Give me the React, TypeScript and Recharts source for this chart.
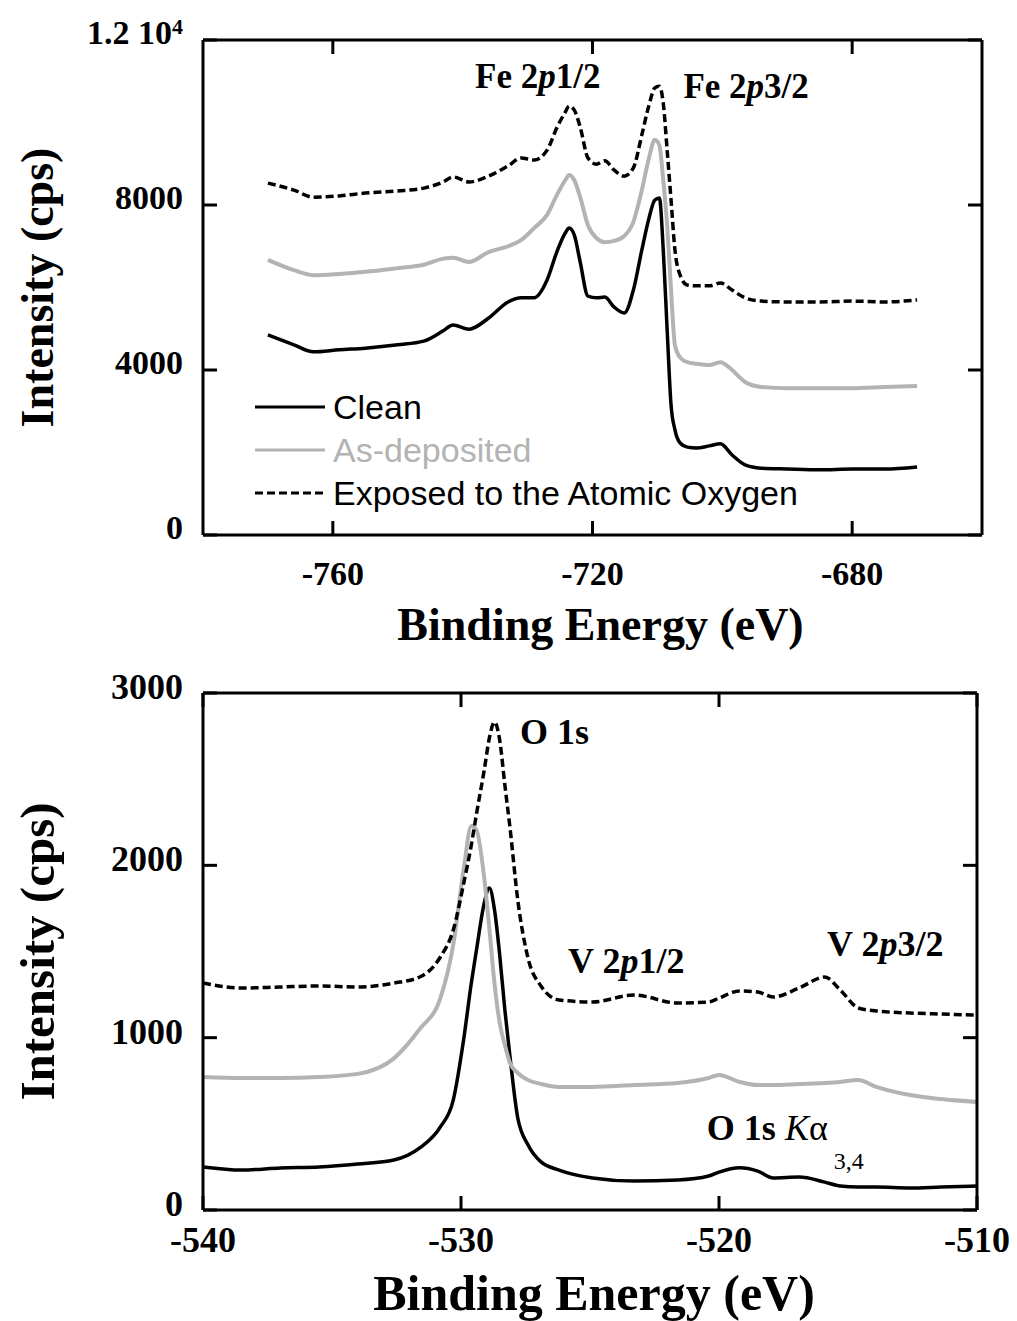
import { Legend, Line, LineChart, ReferenceDot, XAxis, YAxis } from "recharts";

const SERIF = "'Liberation Serif', 'Times New Roman', serif";
const SANS = "'Liberation Sans', Arial, sans-serif";
const GRAY = "#b3b3b3";

// Fe 2p region (binding energy in eV, intensity in cps)
const feEnergy = [
  -770, -766, -763, -759, -755, -750, -746, -743, -741.5, -739, -736, -733, -731, -729, -727, -725.5,
  -724.2, -723.6, -722.8, -721.9, -720.7, -719.4, -718.1, -716.7, -715.1, -713.7, -712.4, -711.3,
  -710.4, -709.7, -709.1, -708.5, -707.9, -707.3, -706.5, -705.4, -704, -702, -700.3, -698.5, -696.5,
  -694, -690, -685, -680, -675, -670,
];
const feClean = [
  4850, 4610, 4440, 4490, 4530, 4610, 4700, 4950, 5090, 4990, 5260, 5650, 5750, 5750, 6180, 6860,
  7320, 7440, 7270, 6620, 5790, 5750, 5770, 5530, 5380, 5940, 6910, 7680,
  8120, 8170, 6910, 4970, 3150, 2550, 2230, 2130, 2110, 2160, 2210, 1940, 1700,
  1620, 1600, 1580, 1600, 1600, 1650,
];
const feAsDeposited = [
  6670, 6420, 6300, 6330, 6380, 6470, 6550, 6700, 6720, 6620, 6860, 7000, 7150, 7440, 7760, 8240,
  8600, 8730, 8600, 8190, 7510, 7200, 7100, 7130, 7250, 7590, 8360, 9140,
  9580, 9450, 8600, 7510, 5940, 4600, 4300, 4190, 4150, 4120, 4190, 4000, 3710,
  3590, 3560, 3560, 3560, 3590, 3610,
];
const feExposed = [
  8530, 8360, 8190, 8220, 8290, 8340, 8410, 8560, 8680, 8560, 8700, 8950, 9140, 9090, 9330, 9870,
  10250, 10400, 10300, 9890, 9140, 8990, 9070, 8850, 8700, 8900, 9700, 10420,
  10840, 10880, 10470, 9330, 8120, 6910, 6300, 6060, 6040, 6040, 6110, 5940, 5750,
  5670, 5650, 5650, 5670, 5650, 5700,
];

// O 1s / V 2p region
const oEnergy = [
  -540, -538.5, -537, -535.5, -534, -532.6, -531.6, -530.8, -530.3, -529.9, -529.6, -529.4, -529.1,
  -528.9, -528.7, -528.5, -528.3, -528.1, -527.8, -527.4, -526.9, -526.2, -524.9, -523.3, -521.6,
  -520.4, -520, -519.2, -518.5, -517.9, -516.9, -515.9, -515.3, -514.6, -513.9, -512.6, -511.4, -510,
];
const oClean = [
  250, 232, 244, 250, 267, 290, 360, 482, 638, 986, 1317, 1509, 1781,
  1869, 1741, 1480, 1161, 888, 534, 377, 279, 232, 186, 168, 174,
  197, 220, 245, 226, 186, 191, 162, 139, 133, 133, 128, 133, 139,
];
const oAsDeposited = [
  772, 766, 766, 772, 790, 880, 1050, 1230, 1540, 1973, 2228, 2205, 1927,
  1631, 1311, 1085, 957, 853, 795, 754, 731, 714, 714, 725, 737,
  766, 783, 743, 725, 725, 731, 737, 743, 754, 714, 667, 644, 627,
];
const oExposed = [
  1317, 1288, 1294, 1300, 1294, 1317, 1352, 1468, 1625, 1892, 2118, 2298, 2553,
  2739, 2832, 2727, 2466, 2217, 1799, 1460, 1300, 1219, 1207, 1248, 1201,
  1207, 1230, 1271, 1265, 1236, 1288, 1352, 1277, 1172, 1155, 1143, 1137, 1131,
];

const seriesNames = ["Clean", "As-deposited", "Exposed to the Atomic Oxygen"];

const feXTicks = [-760, -720, -680];
const feYTicks = [0, 4000, 8000, 12000];
const oXTicks = [-540, -530, -520, -510];
const oYTicks = [0, 1000, 2000, 3000];

const feData = feEnergy.map((x, i) => ({
  x,
  clean: feClean[i],
  asDeposited: feAsDeposited[i],
  exposed: feExposed[i],
}));
const oData = oEnergy.map((x, i) => ({
  x,
  clean: oClean[i],
  asDeposited: oAsDeposited[i],
  exposed: oExposed[i],
}));

const axisLine = { stroke: "#000", strokeWidth: 3 };
const tickLine = { stroke: "#000", strokeWidth: 3 };
const noLabel = () => <g />;

const xTick = (size: number) => (p: any) => (
  <text x={p.x} y={p.y} textAnchor="middle" fontFamily={SERIF} fontWeight="bold" fontSize={size} fill="#000">
    {p.payload.value}
  </text>
);

const yTick = (size: number, dy: number) => (p: any) => {
  const v = p.payload.value;
  const common = {
    x: p.x,
    y: p.y + dy,
    textAnchor: "end" as const,
    fontFamily: SERIF,
    fontWeight: "bold",
    fontSize: size,
    fill: "#000",
  };
  if (v === 12000) {
    return (
      <text {...common}>
        1.2 10<tspan dy={-10} fontSize={22}>4</tspan>
      </text>
    );
  }
  return <text {...common}>{v}</text>;
};

const xTitle = (size: number, dx: number, dy: number) => (p: any) => {
  const vb = p.viewBox ?? {};
  return (
    <text x={vb.x + vb.width / 2 + dx} y={vb.y + dy} textAnchor="middle" fontFamily={SERIF} fontWeight="bold" fontSize={size} fill="#000">
      Binding Energy (eV)
    </text>
  );
};

const yTitle = (size: number) => (p: any) => {
  const vb = p.viewBox ?? {};
  const cx = vb.x - 165;
  const cy = vb.y + vb.height / 2;
  return (
    <text
      transform={`translate(${cx},${cy}) rotate(-90)`}
      textAnchor="middle"
      dominantBaseline="central"
      fontFamily={SERIF}
      fontWeight="bold"
      fontSize={size}
      fill="#000"
    >
      Intensity (cps)
    </text>
  );
};

// peak labels: anchor (left end of the baseline) in data coordinates
const peakLabel = (body: any, size = 35) => (p: any) => {
  const vb = p.viewBox ?? {};
  return (
    <text x={vb.x} y={vb.y} fontFamily={SERIF} fontWeight="bold" fontSize={size} fill="#000">
      {body}
    </text>
  );
};

const renderLegend = (props: any) => {
  const items = [...(props.payload ?? [])].sort(
    (a: any, b: any) => seriesNames.indexOf(a.value) - seriesNames.indexOf(b.value),
  );
  return (
    <svg width={620} height={130}>
      {items.map((it: any, i: number) => {
        const cy = 22 + i * 43;
        return (
          <g key={it.value}>
            <line x1={0} x2={70} y1={cy} y2={cy} stroke={it.color} strokeWidth={3} strokeDasharray={it.payload?.strokeDasharray} />
            <text x={78} y={cy + 12} fontFamily={SANS} fontSize={34} fill={it.color}>
              {it.value}
            </text>
          </g>
        );
      })}
    </svg>
  );
};

function FeChart() {
  return (
    <LineChart width={1017} height={660} data={feData} margin={{ top: 39, right: 34, bottom: 124, left: 202 }}>
      <XAxis
        dataKey="x"
        type="number"
        domain={[-780, -660]}
        ticks={feXTicks}
        interval={0}
        height={1}
        axisLine={axisLine}
        tickLine={tickLine}
        tickSize={-14}
        tickMargin={64}
        tick={xTick(34)}
        label={xTitle(46, 8, 105)}
      />
      <XAxis
        xAxisId="top"
        orientation="top"
        dataKey="x"
        type="number"
        domain={[-780, -660]}
        ticks={feXTicks}
        interval={0}
        height={1}
        axisLine={axisLine}
        tickLine={tickLine}
        tickSize={-14}
        tick={noLabel}
      />
      <YAxis
        type="number"
        domain={[0, 12000]}
        ticks={feYTicks}
        interval={0}
        width={1}
        axisLine={axisLine}
        tickLine={tickLine}
        tickSize={-14}
        tickMargin={34}
        tick={yTick(34, 4)}
        label={yTitle(46)}
      />
      <YAxis
        yAxisId="right"
        orientation="right"
        dataKey="clean"
        type="number"
        domain={[0, 12000]}
        ticks={feYTicks}
        interval={0}
        width={1}
        axisLine={axisLine}
        tickLine={tickLine}
        tickSize={-14}
        tick={noLabel}
      />
      <Line name="Clean" dataKey="clean" type="monotone" stroke="#000" strokeWidth={3.5} dot={false} activeDot={false} isAnimationActive={false} />
      <Line name="As-deposited" dataKey="asDeposited" type="monotone" stroke={GRAY} strokeWidth={4} dot={false} activeDot={false} isAnimationActive={false} />
      <Line
        name="Exposed to the Atomic Oxygen"
        dataKey="exposed"
        type="monotone"
        stroke="#000"
        strokeWidth={3.5}
        strokeDasharray="8 4"
        dot={false}
        activeDot={false}
        isAnimationActive={false}
      />
      <ReferenceDot x={-738.1} y={10835} r={0} fill="none" stroke="none" label={peakLabel(<>Fe 2<tspan fontStyle="italic">p</tspan>1/2</>)} />
      <ReferenceDot x={-706.0} y={10593} r={0} fill="none" stroke="none" label={peakLabel(<>Fe 2<tspan fontStyle="italic">p</tspan>3/2</>)} />
      <Legend
        layout="horizontal"
        align="center"
        verticalAlign="middle"
        itemSorter={null as any}
        content={renderLegend}
        wrapperStyle={{ left: 255, top: 385, width: 620, height: 130 }}
      />
    </LineChart>
  );
}

function OChart() {
  return (
    <LineChart width={1017} height={661} data={oData} margin={{ top: 32, right: 39, bottom: 110, left: 202 }}>
      <XAxis
        dataKey="x"
        type="number"
        domain={[-540, -510]}
        ticks={oXTicks}
        interval={0}
        height={1}
        axisLine={axisLine}
        tickLine={tickLine}
        tickSize={-14}
        tickMargin={56}
        tick={xTick(36)}
        label={xTitle(50, 4, 100)}
      />
      <XAxis
        xAxisId="top"
        orientation="top"
        dataKey="x"
        type="number"
        domain={[-540, -510]}
        ticks={oXTicks}
        interval={0}
        height={1}
        axisLine={axisLine}
        tickLine={tickLine}
        tickSize={-14}
        tick={noLabel}
      />
      <YAxis
        type="number"
        domain={[0, 3000]}
        ticks={oYTicks}
        interval={0}
        width={1}
        axisLine={axisLine}
        tickLine={tickLine}
        tickSize={-14}
        tickMargin={34}
        tick={yTick(36, 6)}
        label={yTitle(49)}
      />
      <YAxis
        yAxisId="right"
        orientation="right"
        dataKey="clean"
        type="number"
        domain={[0, 3000]}
        ticks={oYTicks}
        interval={0}
        width={1}
        axisLine={axisLine}
        tickLine={tickLine}
        tickSize={-14}
        tick={noLabel}
      />
      <Line name="Clean" dataKey="clean" type="monotone" stroke="#000" strokeWidth={3.5} dot={false} activeDot={false} isAnimationActive={false} />
      <Line name="As-deposited" dataKey="asDeposited" type="monotone" stroke={GRAY} strokeWidth={4} dot={false} activeDot={false} isAnimationActive={false} />
      <Line
        name="Exposed to the Atomic Oxygen"
        dataKey="exposed"
        type="monotone"
        stroke="#000"
        strokeWidth={3.5}
        strokeDasharray="8 4"
        dot={false}
        activeDot={false}
        isAnimationActive={false}
      />
      <ReferenceDot x={-527.71} y={2704} r={0} fill="none" stroke="none" label={peakLabel(<>O 1s</>, 36)} />
      <ReferenceDot x={-525.85} y={1375} r={0} fill="none" stroke="none" label={peakLabel(<>V 2<tspan fontStyle="italic">p</tspan>1/2</>, 36)} />
      <ReferenceDot x={-515.81} y={1474} r={0} fill="none" stroke="none" label={peakLabel(<>V 2<tspan fontStyle="italic">p</tspan>3/2</>, 36)} />
      <ReferenceDot
        x={-520.47}
        y={406}
        r={0}
        fill="none"
        stroke="none"
        label={peakLabel(
          <>
            O 1s <tspan fontStyle="italic" fontWeight="normal">K</tspan>
            <tspan fontWeight="normal">α</tspan>
            <tspan fontWeight="normal" fontSize={24} dx={6} dy={29}>3,4</tspan>
          </>,
          36,
        )}
      />
    </LineChart>
  );
}

export default function App() {
  return (
    <div style={{ position: "absolute", left: 0, top: 0, width: 1017, height: 1321, background: "#fff" }}>
      <div style={{ position: "absolute", left: 0, top: 0 }}>
        <FeChart />
      </div>
      <div style={{ position: "absolute", left: 0, top: 660 }}>
        <OChart />
      </div>
    </div>
  );
}
